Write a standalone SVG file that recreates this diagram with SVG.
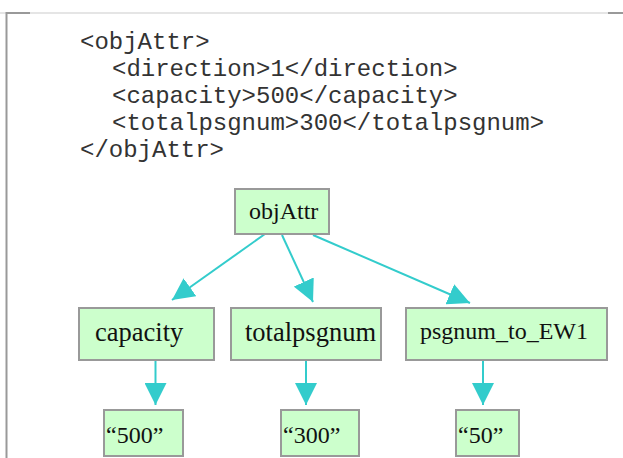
<svg xmlns="http://www.w3.org/2000/svg" width="623" height="458" viewBox="0 0 623 458">
<style>
.code{font-family:"Liberation Mono","Courier New",monospace;font-size:24px;fill:#333333}
.box{fill:#ccffcc;stroke:#999999;stroke-width:2}
.lbl{font-family:"Liberation Serif","Times New Roman",serif;font-size:24px;fill:#111}
.big{font-size:26.5px}
.edge{stroke:#33cccc;stroke-width:2;fill:none}
</style>
<defs>
<marker id="ah" markerUnits="userSpaceOnUse" markerWidth="22" markerHeight="22" viewBox="0 0 20 20" refX="20" refY="10" orient="auto">
<path d="M0,0 L20,10 L0,20 z" fill="#33cccc"/>
</marker>
</defs>
<rect x="0" y="0" width="623" height="458" fill="#ffffff"/>
<g id="frame">
<line x1="0" y1="13" x2="623" y2="13" stroke="#dddddd" stroke-width="1.5"/>
<line x1="6" y1="13" x2="30" y2="13" stroke="#999999" stroke-width="2"/>
<line x1="608" y1="13" x2="623" y2="13" stroke="#999999" stroke-width="2"/>
<line x1="6.5" y1="12" x2="6.5" y2="458" stroke="#999999" stroke-width="2"/>
</g>
<g id="code">
<text class="code" x="80" y="49">&lt;objAttr&gt;</text>
<text class="code" x="112" y="76">&lt;direction&gt;1&lt;/direction&gt;</text>
<text class="code" x="112" y="103">&lt;capacity&gt;500&lt;/capacity&gt;</text>
<text class="code" x="112" y="130">&lt;totalpsgnum&gt;300&lt;/totalpsgnum&gt;</text>
<text class="code" x="80" y="157">&lt;/objAttr&gt;</text>
</g>
<g id="connectors">
<line class="edge" x1="265" y1="234" x2="172" y2="300" marker-end="url(#ah)"/>
<line class="edge" x1="282" y1="235" x2="313" y2="302" marker-end="url(#ah)"/>
<line class="edge" x1="313" y1="235" x2="470" y2="303" marker-end="url(#ah)"/>
<line class="edge" x1="155.5" y1="360" x2="155.5" y2="405" marker-end="url(#ah)"/>
<line class="edge" x1="306" y1="360" x2="306" y2="405" marker-end="url(#ah)"/>
<line class="edge" x1="483" y1="360" x2="483" y2="405" marker-end="url(#ah)"/>
</g>
<g id="objAttr">
<rect class="box" x="235" y="189" width="94" height="45"/>
<text class="lbl" x="249" y="219">objAttr</text>
</g>
<g id="capacity">
<rect class="box" x="79" y="308" width="135" height="52"/>
<text class="lbl big" x="95" y="341">capacity</text>
</g>
<g id="totalpsgnum">
<rect class="box" x="231" y="308" width="150" height="52"/>
<text class="lbl big" x="245" y="341">totalpsgnum</text>
</g>
<g id="psgnum_to_EW1">
<rect class="box" x="406" y="308" width="201" height="52"/>
<text class="lbl" x="420" y="339">psgnum_to_EW1</text>
</g>
<g id="v500">
<rect class="box" x="104" y="410" width="79" height="46"/>
<text class="lbl" x="106" y="443">“500”</text>
</g>
<g id="v300">
<rect class="box" x="281" y="410" width="78" height="46"/>
<text class="lbl" x="283" y="443">“300”</text>
</g>
<g id="v50">
<rect class="box" x="456" y="410" width="63" height="46"/>
<text class="lbl" x="458" y="443">“50”</text>
</g>
</svg>
